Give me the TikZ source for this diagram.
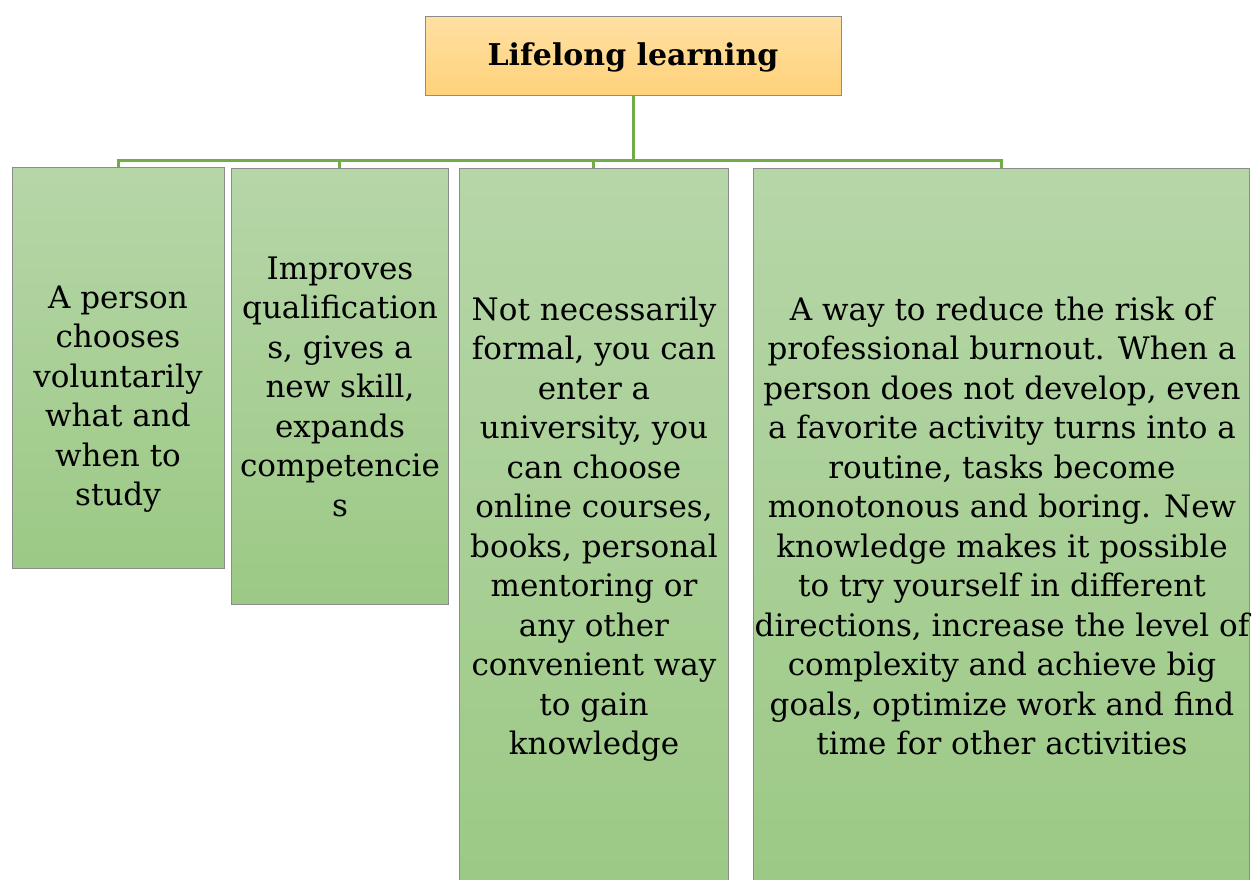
\documentclass[tikz,border=0pt]{standalone}
\usepackage{fontspec}
\setmainfont{DejaVu Serif}
\definecolor{ttop}{HTML}{FFE0A3}
\definecolor{tbot}{HTML}{FFD27A}
\definecolor{gtop}{HTML}{B6D6A8}
\definecolor{gbot}{HTML}{9CC985}
\definecolor{edge}{HTML}{8C8C8C}
\definecolor{conn}{HTML}{70AD47}
\tikzset{
  box/.style={draw=edge, line width=1pt, inner sep=0pt, outer sep=0pt, anchor=north west},
  childbox/.style={box, top color=gtop, bottom color=gbot},
  body/.style={align=center, inner sep=0pt, anchor=base, font=\fontsize{31}{39.5}\selectfont},
  connline/.style={draw=conn, line width=3pt}
}
\begin{document}
\begin{tikzpicture}[x=1pt,y=-1pt]
\useasboundingbox (0,0) rectangle (1252,879);
\node[box, top color=ttop, bottom color=tbot, minimum width=416pt, minimum height=79pt] (title) at (425,16) {};
\node[font=\bfseries\fontsize{30}{36}\selectfont, inner sep=0pt, anchor=base] (tt) at (633,65) {Lifelong learning};
\node[childbox, minimum width=212pt, minimum height=401pt] (c1) at (12,167) {};
\node[childbox, minimum width=217pt, minimum height=436pt] (c2) at (231,168) {};
\node[childbox, minimum width=269pt, minimum height=720pt] (c3) at (459,168) {};
\node[childbox, minimum width=496pt, minimum height=720pt] (c4) at (753,168) {};
\coordinate (bus) at (633,160);
\draw[connline] (title.south) -- (bus);
\draw[connline] (bus) -| (c1.north);
\draw[connline] (bus) -| (c2.north);
\draw[connline] (bus) -| (c3.north);
\draw[connline] (bus) -| (c4.north);
\node[body] (t1) at (118,505.5) {A person\\chooses\\voluntarily\\what and\\when to\\study};
\node[body] (t2) at (340,516) {Improves\\qualification\\s, gives a\\new skill,\\expands\\competencie\\s};
\node[body] (t3) at (594,754.5) {Not necessarily\\formal, you can\\enter a\\university, you\\can choose\\online courses,\\books, personal\\mentoring or\\any other\\convenient way\\to gain\\knowledge};
\node[body] (t4) at (1002,754.5) {A way to reduce the risk of\\professional burnout. When a\\person does not develop, even\\a favorite activity turns into a\\routine, tasks become\\monotonous and boring. New\\knowledge makes it possible\\to try yourself in different\\directions, increase the level of\\complexity and achieve big\\goals, optimize work and find\\time for other activities};
\end{tikzpicture}
\end{document}
